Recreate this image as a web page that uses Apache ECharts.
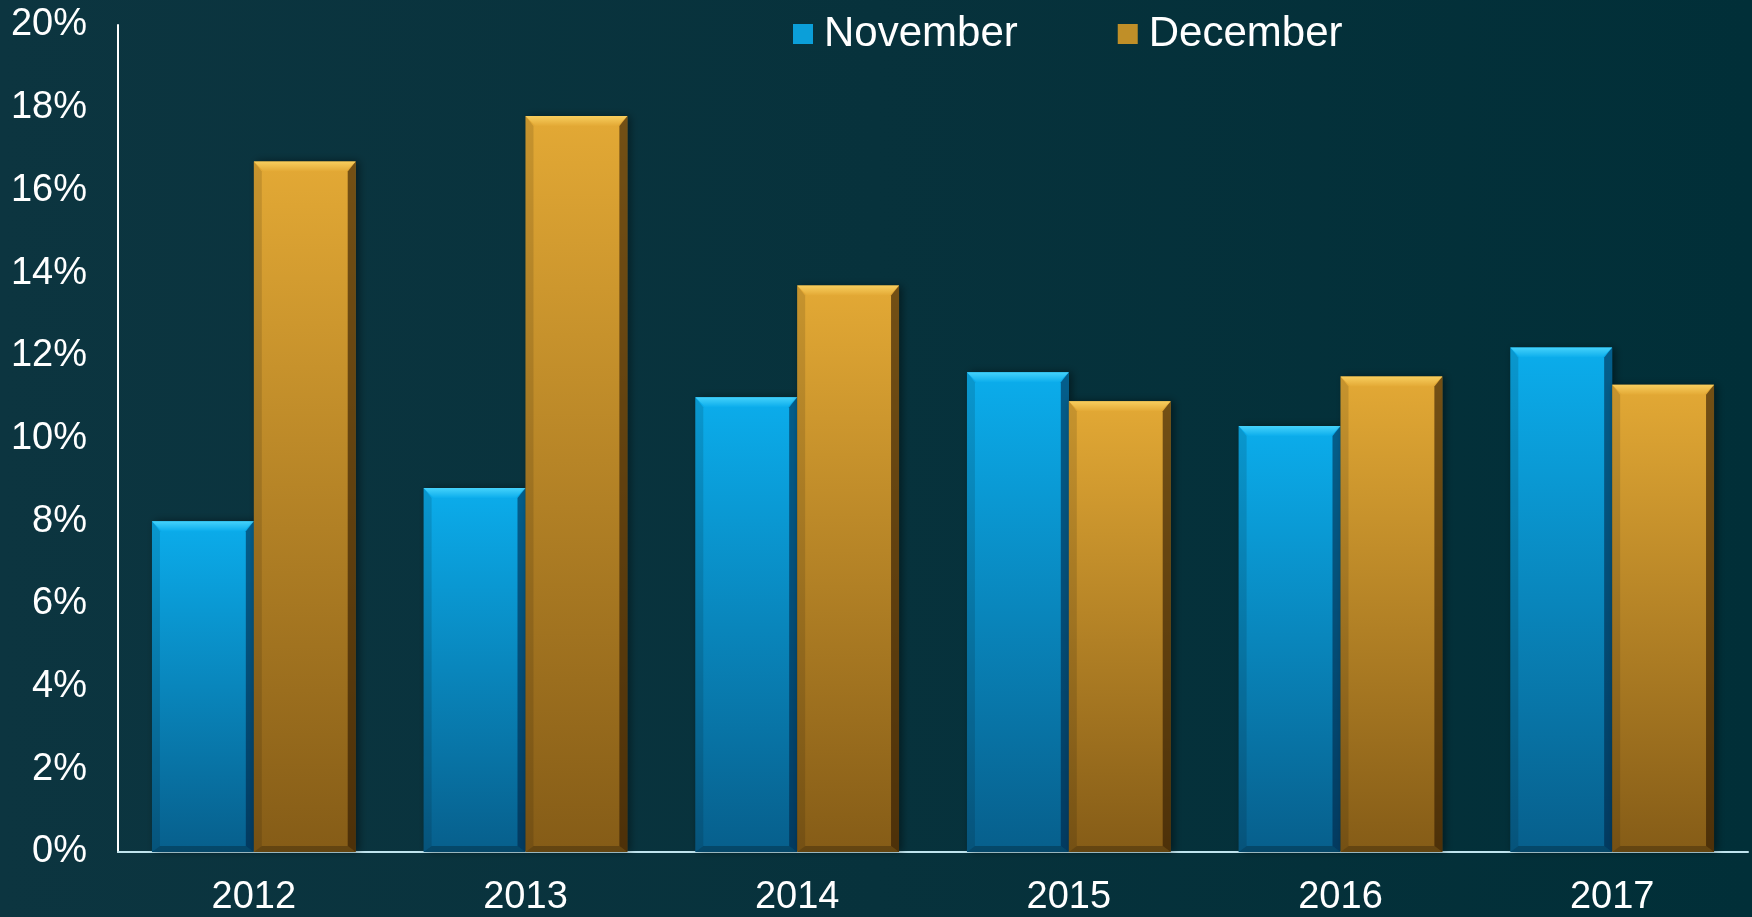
<!DOCTYPE html>
<html>
<head>
<meta charset="utf-8">
<style>
  html, body { margin: 0; padding: 0; background: #06313b; }
  #main { width: 1752px; height: 917px; }
</style>
<script src="https://cdn.jsdelivr.net/npm/echarts@6/dist/echarts.min.js"></script>
</head>
<body>
<div id="main"></div>
<script>
// data (percent)
var years = ['2012', '2013', '2014', '2015', '2016', '2017'];
var november = [8.0, 8.8, 11.0, 11.6, 10.3, 12.2];
var december = [16.7, 17.8, 13.7, 10.9, 11.5, 11.3];
var yTicks = [0, 2, 4, 6, 8, 10, 12, 14, 16, 18, 20];

var myChart = echarts.init(document.getElementById('main'));

var looks = [
  { top: '#0badec', bottom: '#075f8c', bevel: '#45d2fb', side: 'rgba(0,30,60,0.55)' },
  { top: '#e3a935', bottom: '#855c17', bevel: '#f8ce5e', side: 'rgba(40,20,0,0.6)' }
];

// beveled bar drawn through the axis scales
function bevelBar(sIdx) {
  return function (params, api) {
    var cat = api.value(0);
    var val = api.value(1);
    var topPt = api.coord([cat, val]);
    var basePt = api.coord([cat, 0]);
    var band = api.size([1, 0])[0];
    var w = band * 0.375;
    var x = topPt[0] - w + sIdx * w;
    var y = topPt[1];
    var h = basePt[1] - topPt[1];
    var b = 10;
    var lk = looks[sIdx];
    return {
      type: 'group',
      children: [
        {
          type: 'rect',
          shape: { x: x, y: y, width: w, height: h },
          style: {
            fill: new echarts.graphic.LinearGradient(0, 0, 0, 1, [
              { offset: 0, color: lk.top },
              { offset: 1, color: lk.bottom }
            ]),
            shadowBlur: 8,
            shadowColor: 'rgba(0,0,0,0.45)',
            shadowOffsetX: 3
          }
        },
        {
          type: 'polygon',
          shape: { points: [[x, y], [x + b * 0.8, y + b], [x + b * 0.8, y + h - b * 0.6], [x, y + h]] },
          style: { fill: 'rgba(0,0,0,0.12)' }
        },
        {
          type: 'polygon',
          shape: { points: [[x + w, y], [x + w - b * 0.8, y + b], [x + w - b * 0.8, y + h - b * 0.6], [x + w, y + h]] },
          style: { fill: lk.side }
        },
        {
          type: 'polygon',
          shape: { points: [[x, y + h], [x + b * 0.8, y + h - b * 0.6], [x + w - b * 0.8, y + h - b * 0.6], [x + w, y + h]] },
          style: { fill: 'rgba(0,0,0,0.25)' }
        },
        {
          type: 'polygon',
          shape: { points: [[x, y], [x + w, y], [x + w - b, y + b], [x + b, y + b]] },
          style: {
            fill: new echarts.graphic.LinearGradient(0, 0, 0, 1, [
              { offset: 0, color: lk.bevel },
              { offset: 1, color: lk.top }
            ])
          }
        }
      ]
    };
  };
}

function toPairs(arr) {
  return arr.map(function (v, i) { return [i, v]; });
}

var option = {
  backgroundColor: new echarts.graphic.LinearGradient(0, 0, 1, 0, [
    { offset: 0, color: '#0c3540' },
    { offset: 0.5, color: '#07323c' },
    { offset: 1, color: '#012f38' }
  ]),
  textStyle: { fontFamily: 'Liberation Sans, Arial, sans-serif' },
  legend: {
    left: 788,
    top: 8,
    itemWidth: 20,
    itemHeight: 20,
    itemGap: 100,
    icon: 'rect',
    textStyle: { color: '#ffffff', fontSize: 42, padding: [0, 0, 0, 6] },
    data: ['November', 'December']
  },
  grid: {
    left: 118,
    right: 4,
    top: 25,
    bottom: 60,
    containLabel: false
  },
  xAxis: {
    type: 'category',
    data: years,
    axisTick: { show: false },
    axisLine: { lineStyle: { color: '#bfe4ee', width: 2 } },
    axisLabel: { color: '#ffffff', fontSize: 38, margin: 27 }
  },
  yAxis: {
    type: 'value',
    min: yTicks[0],
    max: yTicks[yTicks.length - 1],
    interval: 2,
    splitLine: { show: false },
    axisTick: { show: false },
    axisLine: { show: true, lineStyle: { color: '#ffffff', width: 2 } },
    axisLabel: { color: '#ffffff', fontSize: 38, margin: 31, formatter: '{value}%' }
  },
  series: [
    {
      name: 'November',
      type: 'custom',
      renderItem: bevelBar(0),
      encode: { x: 0, y: 1 },
      itemStyle: { color: '#0b9fd9' },
      data: toPairs(november)
    },
    {
      name: 'December',
      type: 'custom',
      renderItem: bevelBar(1),
      encode: { x: 0, y: 1 },
      itemStyle: { color: '#c08f28' },
      data: toPairs(december)
    }
  ]
};

myChart.setOption(option);
</script>
</body>
</html>
